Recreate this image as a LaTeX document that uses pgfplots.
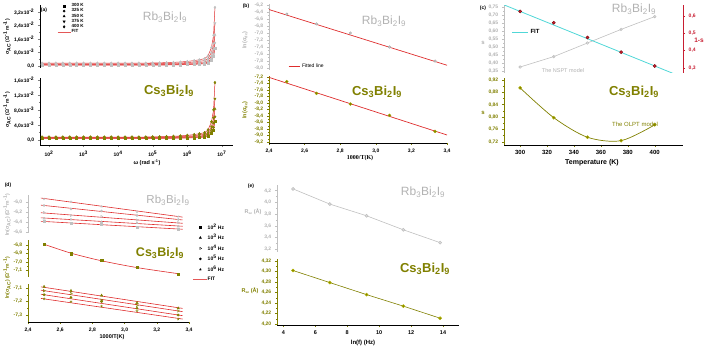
\documentclass[border=0pt]{standalone}
\usepackage{pgfplots}
\pgfplotsset{compat=1.18}
\usepackage{pgfplotstable}
\usepackage{fontspec}
\setmainfont{Liberation Sans}
\newfontfamily\serifb{Liberation Serif}

\definecolor{rbgray}{RGB}{192,192,192}
\definecolor{rbtxt}{RGB}{178,178,178}
\definecolor{olv}{RGB}{128,128,0}
\definecolor{fitred}{RGB}{222,45,45}
\definecolor{fitcyan}{RGB}{80,215,215}
\definecolor{axred}{RGB}{200,30,50}

\pgfkeys{/pgf/number format/.cd, assume math mode=true, use comma}
\newcommand{\tkf}{\fontsize{5}{6}\selectfont\bfseries}
\newcommand{\Rb}{Rb\textsubscript{3}Bi\textsubscript{2}I\textsubscript{9}}
\newcommand{\Cs}{Cs\textsubscript{3}Bi\textsubscript{2}I\textsubscript{9}}

\pgfplotsset{
  panel/.style={scale only axis, anchor=south west, tick align=outside,
    major tick length=2.2pt, minor tick length=1.2pt,
    tick style={line width=0.4pt},
    axis line style={line width=0.5pt},
    ticklabel style={font=\tkf},
    axis y line*=left, legend cell align=left},
  tpan/.style={panel, axis x line=none},
  bpan/.style={panel, axis x line*=bottom},
  grayax/.style={axis line style={rbgray}, tick style={rbgray}, yticklabel style={text=rbtxt}},
  olvax/.style={axis line style={olv}, x axis line style={black}, tick style={olv}, yticklabel style={text=olv}},
  p1/.style={/pgf/number format/.cd, fixed, fixed zerofill, precision=1},
  p2/.style={/pgf/number format/.cd, fixed, fixed zerofill, precision=2},
  linelegend/.style={legend image code/.code={\draw[##1] (2pt,0pt) -- (15pt,0pt);}},
  linelegendb/.style={legend image code/.code={\draw[##1] (0pt,0pt) -- (11pt,0pt);}},
  linelegendc/.style={legend image code/.code={\draw[##1] (0pt,0pt) -- (16pt,0pt);}},
  linelegendd/.style={legend image code/.code={\draw[##1] (1pt,0pt) -- (15pt,0pt);}},
}

% (a) sigma_ac vs omega, units 1e-2
\pgfplotstableread{
w a1 a2 a3 a4 a5 b1 b2 b3 b4 b5
63.1 0.05 0.07 0.10 0.13 0.17 0.04 0.05 0.06 0.07 0.08
100 0.05 0.07 0.10 0.13 0.17 0.04 0.05 0.06 0.07 0.08
158.5 0.05 0.07 0.10 0.13 0.17 0.04 0.05 0.06 0.07 0.08
251.2 0.05 0.07 0.10 0.13 0.17 0.04 0.05 0.06 0.07 0.08
398.1 0.05 0.07 0.10 0.13 0.17 0.04 0.05 0.06 0.07 0.08
631 0.05 0.07 0.10 0.13 0.17 0.04 0.05 0.06 0.07 0.08
1000 0.05 0.07 0.10 0.13 0.17 0.04 0.05 0.06 0.07 0.08
1585 0.05 0.07 0.10 0.13 0.17 0.04 0.05 0.06 0.07 0.08
2512 0.05 0.07 0.10 0.13 0.17 0.04 0.05 0.06 0.07 0.08
3981 0.05 0.07 0.10 0.13 0.17 0.04 0.05 0.06 0.07 0.08
6310 0.05 0.07 0.10 0.13 0.17 0.04 0.05 0.06 0.07 0.08
10000 0.05 0.07 0.10 0.13 0.17 0.04 0.05 0.06 0.07 0.08
15849 0.05 0.07 0.10 0.13 0.17 0.04 0.05 0.06 0.07 0.08
25119 0.05 0.07 0.10 0.13 0.17 0.04 0.05 0.06 0.07 0.08
39811 0.05 0.07 0.10 0.13 0.17 0.04 0.05 0.06 0.07 0.08
63096 0.05 0.07 0.10 0.13 0.17 0.04 0.05 0.06 0.07 0.08
100000 0.053 0.074 0.105 0.137 0.180 0.041 0.052 0.062 0.073 0.084
158489 0.055 0.077 0.109 0.142 0.187 0.042 0.053 0.064 0.075 0.087
251189 0.058 0.080 0.114 0.149 0.196 0.044 0.055 0.066 0.078 0.092
398107 0.063 0.087 0.123 0.161 0.213 0.046 0.057 0.070 0.083 0.099
630957 0.070 0.096 0.135 0.178 0.236 0.049 0.061 0.075 0.091 0.109
1000000 0.080 0.109 0.153 0.202 0.269 0.054 0.067 0.083 0.101 0.124
1584893 0.095 0.129 0.179 0.238 0.319 0.061 0.076 0.095 0.116 0.145
2238721 0.110 0.148 0.205 0.274 0.368 0.068 0.084 0.106 0.132 0.167
3162278 0.130 0.174 0.240 0.322 0.434 0.077 0.096 0.122 0.152 0.196
3981072 0.180 0.239 0.328 0.442 0.599 0.100 0.124 0.160 0.204 0.269
5011872 0.330 0.434 0.590 0.802 1.094 0.169 0.210 0.276 0.358 0.486
5754399 0.550 0.720 0.975 1.330 1.820 0.270 0.335 0.445 0.585 0.805
6309573 1.050 1.370 1.850 2.530 3.470 0.500 0.620 0.830 1.100 1.530
}\tabA

\begin{document}
\begin{tikzpicture}
\useasboundingbox (0pt,0pt) rectangle (709pt,350pt);

%================ (a) top
\begin{axis}[tpan, at={(40pt,282pt)}, width=193pt, height=62.75pt,
  xmode=log, xmin=55, xmax=2.1e7, ymin=-0.12, ymax=3.6,
  ytick={0,0.8,1.6,2.4,3.2}, minor ytick={0.4,1.2,2.0,2.8},
  yticklabels={{0,0},{8,0x10\textsuperscript{-3}},{1,6x10\textsuperscript{-2}},{2,4x10\textsuperscript{-2}},{3,2x10\textsuperscript{-2}}},
  legend style={at={(0.088,1.04)}, anchor=north west, draw=none, fill=none,
    font=\fontsize{4.5}{5}\selectfont\bfseries, row sep=-0.6pt, inner sep=0pt, nodes={inner sep=0.6pt}}]
\addlegendimage{only marks, mark=square*, mark size=1pt, black}\addlegendentry{300 K}
\addlegendimage{only marks, mark=*, mark size=1.1pt, black}\addlegendentry{325 K}
\addlegendimage{only marks, mark=triangle*, mark size=1.3pt, black}\addlegendentry{350 K}
\addlegendimage{only marks, mark=triangle*, mark size=1.3pt, mark options={rotate=180}, black}\addlegendentry{375 K}
\addlegendimage{only marks, mark=diamond*, mark size=1.3pt, black}\addlegendentry{400 K}
\addlegendimage{fitred!80, line width=0.8pt, linelegend}\addlegendentry{FIT}
\addplot[forget plot, only marks, mark=square*, mark size=1pt, rbgray] table[x=w,y=a1]{\tabA};
\addplot[forget plot, only marks, mark=*, mark size=1.1pt, rbgray] table[x=w,y=a2]{\tabA};
\addplot[forget plot, only marks, mark=triangle*, mark size=1.3pt, rbgray] table[x=w,y=a3]{\tabA};
\addplot[forget plot, only marks, mark=triangle*, mark size=1.3pt, mark options={rotate=180}, rbgray] table[x=w,y=a4]{\tabA};
\addplot[forget plot, only marks, mark=diamond*, mark size=1.3pt, rbgray] table[x=w,y=a5]{\tabA};
\addplot[forget plot, fitred, line width=0.5pt] table[x=w,y=a1]{\tabA};
\addplot[forget plot, fitred, line width=0.5pt] table[x=w,y=a2]{\tabA};
\addplot[forget plot, fitred, line width=0.5pt] table[x=w,y=a3]{\tabA};
\addplot[forget plot, fitred, line width=0.5pt] table[x=w,y=a4]{\tabA};
\addplot[forget plot, fitred, line width=0.5pt] table[x=w,y=a5]{\tabA};
\end{axis}

%================ (a) bottom
\begin{axis}[bpan, at={(40pt,205pt)}, width=193pt, height=67pt,
  xmode=log, xmin=55, xmax=2.1e7, ymin=-0.133, ymax=1.653,
  xtick={1e2,1e3,1e4,1e5,1e6,1e7},
  xticklabels={10\textsuperscript{2},10\textsuperscript{3},10\textsuperscript{4},10\textsuperscript{5},10\textsuperscript{6},10\textsuperscript{7}},
  ytick={0,0.4,0.8,1.2,1.6}, minor ytick={0.2,0.6,1.0,1.4},
  yticklabels={{0,0},{4,0x10\textsuperscript{-3}},{8,0x10\textsuperscript{-3}},{1,2x10\textsuperscript{-2}},{1,6x10\textsuperscript{-2}}}]
\addplot[only marks, mark=square*, mark size=1pt, olv] table[x=w,y=b1]{\tabA};
\addplot[only marks, mark=*, mark size=1.1pt, olv] table[x=w,y=b2]{\tabA};
\addplot[only marks, mark=triangle*, mark size=1.3pt, olv] table[x=w,y=b3]{\tabA};
\addplot[only marks, mark=triangle*, mark size=1.3pt, mark options={rotate=180}, olv] table[x=w,y=b4]{\tabA};
\addplot[only marks, mark=diamond*, mark size=1.4pt, olv] table[x=w,y=b5]{\tabA};
\addplot[fitred, line width=0.5pt] table[x=w,y=b1]{\tabA};
\addplot[fitred, line width=0.5pt] table[x=w,y=b2]{\tabA};
\addplot[fitred, line width=0.5pt] table[x=w,y=b3]{\tabA};
\addplot[fitred, line width=0.5pt] table[x=w,y=b4]{\tabA};
\addplot[fitred, line width=0.5pt] table[x=w,y=b5]{\tabA};
\end{axis}

%================ (b) top
\begin{axis}[tpan, grayax, at={(269pt,280.2pt)}, width=178pt, height=65.5pt,
  xmin=2.4, xmax=3.4, ymin=-8.05, ymax=-6.18,
  ytick={-8.0,-7.8,-7.6,-7.4,-7.2,-7.0,-6.8,-6.6,-6.4,-6.2}, minor y tick num=1,
  yticklabel style={/pgfplots/p1},
  legend style={at={(0.09,0.058)}, anchor=west, draw=none, fill=none,
    font=\fontsize{5}{6}\selectfont}]
\addlegendimage{fitred, line width=0.8pt, linelegendb}\addlegendentry{Fitted line}
\addplot[forget plot, fitred, line width=0.7pt] coordinates {(2.4,-6.33) (3.4,-7.92)};
\addplot[forget plot, only marks, mark=*, mark size=1.3pt, mark options={fill=black!20, draw=black!35}] coordinates {(2.5,-6.46) (2.667,-6.74) (2.857,-7.0) (3.077,-7.4) (3.333,-7.8)};
\end{axis}

%================ (b) bottom
\begin{axis}[bpan, olvax, at={(269pt,207.2pt)}, width=178pt, height=66.4pt,
  xmin=2.4, xmax=3.4, ymin=-9.22, ymax=-7.18,
  xtick={2.4,2.6,2.8,3.0,3.2,3.4}, xticklabel style={/pgfplots/p1},
  ytick={-9.2,-9.0,-8.8,-8.6,-8.4,-8.2,-8.0,-7.8,-7.6,-7.4,-7.2}, minor y tick num=1,
  yticklabel style={/pgfplots/p1}]
\addplot[fitred, line width=0.7pt] coordinates {(2.4,-7.21) (3.4,-8.98)};
\addplot[only marks, mark=*, mark size=1.5pt, mark options={fill=olv, draw=olv!70!yellow}] coordinates {(2.5,-7.34) (2.667,-7.70) (2.857,-8.03) (3.077,-8.38) (3.333,-8.87)};
\end{axis}

%================ (c) top left (s, Rb)
\begin{axis}[tpan, grayax, at={(504pt,277.4pt)}, width=179pt, height=67.2pt,
  xmin=288, xmax=421, ymin=0.34, ymax=0.76,
  ytick={0.35,0.40,0.45,0.50,0.55,0.60,0.65,0.70,0.75}, minor y tick num=1,
  yticklabel style={/pgfplots/p2}]
\addplot[rbgray, line width=0.6pt, mark=o, mark size=1.3pt] coordinates {(300,0.375) (325,0.44) (350,0.525) (375,0.61) (400,0.69)};
\end{axis}
%================ (c) top right (1-s)
\begin{axis}[panel, axis y line*=right, axis x line=none, at={(504pt,277.4pt)}, width=179pt, height=67.2pt,
  xmin=288, xmax=421, ymin=0.272, ymax=0.66,
  axis line style={axred}, tick style={axred}, yticklabel style={text=axred, /pgfplots/p1},
  ytick={0.3,0.4,0.5,0.6}, minor y tick num=1,
  legend style={at={(0.025,0.604)}, anchor=west, draw=none, fill=none,
    font=\fontsize{6}{7}\selectfont\bfseries}]
\addlegendimage{fitcyan, line width=0.9pt, linelegendc}\addlegendentry{FIT}
\addplot[forget plot, fitcyan, line width=0.8pt] coordinates {(288,0.663) (421,0.244)};
\addplot[forget plot, only marks, mark=*, mark size=1.6pt, mark options={fill=axred, draw=red!45!black}] coordinates {(300,0.625) (325,0.56) (350,0.475) (375,0.39) (400,0.31)};
\end{axis}

%================ (c) bottom
\begin{axis}[bpan, olvax, at={(504pt,205pt)}, width=179pt, height=67pt,
  xmin=288, xmax=421, ymin=0.71, ymax=0.926,
  xtick={300,320,340,360,380,400}, xticklabel style={font=\fontsize{6}{7}\selectfont\bfseries},
  ytick={0.72,0.76,0.80,0.84,0.88,0.92}, minor y tick num=1,
  yticklabel style={/pgfplots/p2}]
\addplot[olv, smooth, line width=0.7pt] coordinates {(300,0.894) (325,0.798) (350,0.735) (375,0.724) (400,0.775)};
\addplot[only marks, mark=*, mark size=1.6pt, mark options={fill=olv, draw=olv!60!yellow}] coordinates {(300,0.894) (325,0.798) (350,0.735) (375,0.724) (400,0.775)};
\end{axis}

%================ (d) top (Rb)
\begin{axis}[tpan, grayax, at={(28pt,117pt)}, width=161pt, height=38pt,
  xmin=2.4, xmax=3.4, ymin=-6.62, ymax=-5.86,
  ytick={-6.6,-6.4,-6.2,-6.0}, minor y tick num=1,
  yticklabel style={/pgfplots/p1}]
\addplot[only marks, mark=star, mark size=1.3pt, rbgray] coordinates {(2.5,-5.94) (2.667,-5.99) (2.857,-6.09) (3.077,-6.20) (3.333,-6.29)};
\addplot[only marks, mark=*, mark size=1.1pt, rbgray] coordinates {(2.5,-6.07) (2.667,-6.14) (2.857,-6.18) (3.077,-6.27) (3.333,-6.35)};
\addplot[only marks, mark=triangle, mark size=1.3pt, mark options={rotate=-90}, rbgray] coordinates {(2.5,-6.21) (2.667,-6.27) (2.857,-6.29) (3.077,-6.36) (3.333,-6.41)};
\addplot[only marks, mark=triangle*, mark size=1.3pt, rbgray] coordinates {(2.5,-6.33) (2.667,-6.35) (2.857,-6.40) (3.077,-6.42) (3.333,-6.49)};
\addplot[only marks, mark=square*, mark size=1pt, rbgray] coordinates {(2.5,-6.39) (2.667,-6.43) (2.857,-6.45) (3.077,-6.50) (3.333,-6.54)};
\addplot[fitred, line width=0.6pt] coordinates {(2.48,-5.921) (3.36,-6.302)};
\addplot[fitred, line width=0.6pt] coordinates {(2.48,-6.063) (3.36,-6.359)};
\addplot[fitred, line width=0.6pt] coordinates {(2.48,-6.215) (3.36,-6.426)};
\addplot[fitred, line width=0.6pt] coordinates {(2.48,-6.316) (3.36,-6.485)};
\addplot[fitred, line width=0.6pt] coordinates {(2.48,-6.386) (3.36,-6.545)};
\end{axis}

%================ (d) middle (Cs, 10^2 Hz)
\begin{axis}[tpan, olvax, at={(28pt,73pt)}, width=161pt, height=37pt,
  xmin=2.4, xmax=3.4, ymin=-7.176, ymax=-6.74,
  ytick={-7.1,-7.0,-6.9,-6.8}, minor y tick num=1,
  yticklabel style={/pgfplots/p1},
  legend style={at={(1.02,1.46)}, anchor=north west, draw=none, fill=none,
    font=\fontsize{5}{6}\selectfont\bfseries, row sep=2.6pt, inner sep=0pt, nodes={inner sep=0.5pt}}]
\addlegendimage{only marks, mark=square*, mark size=1pt, black}\addlegendentry{10\textsuperscript{2} Hz}
\addlegendimage{only marks, mark=triangle*, mark size=1.3pt, black}\addlegendentry{10\textsuperscript{3} Hz}
\addlegendimage{only marks, mark=triangle, mark size=1.3pt, mark options={rotate=-90}, black}\addlegendentry{10\textsuperscript{4} Hz}
\addlegendimage{only marks, mark=*, mark size=1.1pt, black}\addlegendentry{10\textsuperscript{5} Hz}
\addlegendimage{only marks, mark=star, mark size=1.3pt, black}\addlegendentry{10\textsuperscript{6} Hz}
\addlegendimage{fitred!80, line width=0.8pt, linelegendd}\addlegendentry{FIT}
\addplot[forget plot, only marks, mark=square*, mark size=1.2pt, olv] coordinates {(2.5,-6.79) (2.667,-6.90) (2.857,-6.98) (3.077,-7.06) (3.333,-7.14)};
\addplot[forget plot, fitred, smooth, line width=0.6pt] coordinates {(2.5,-6.79) (2.667,-6.895) (2.857,-6.985) (3.077,-7.065) (3.333,-7.137)};
\end{axis}

%================ (d) bottom (Cs, 10^3..10^6 Hz)
\begin{axis}[bpan, olvax, at={(28pt,28pt)}, width=161pt, height=38pt,
  xmin=2.4, xmax=3.4, ymin=-7.352, ymax=-7.07,
  xtick={2.4,2.6,2.8,3.0,3.2,3.4}, xticklabel style={/pgfplots/p1},
  ytick={-7.3,-7.2,-7.1}, minor y tick num=1,
  yticklabel style={/pgfplots/p1}]
\addplot[only marks, mark=triangle*, mark size=1.4pt, olv] coordinates {(2.5,-7.09) (2.667,-7.12) (2.857,-7.155) (3.077,-7.21) (3.333,-7.25)};
\addplot[only marks, mark=triangle, mark size=1.4pt, mark options={rotate=-90}, olv] coordinates {(2.5,-7.12) (2.667,-7.14) (2.857,-7.19) (3.077,-7.23) (3.333,-7.27)};
\addplot[only marks, mark=*, mark size=1.2pt, olv] coordinates {(2.5,-7.15) (2.667,-7.17) (2.857,-7.20) (3.077,-7.25) (3.333,-7.30)};
\addplot[only marks, mark=star, mark size=1.4pt, olv] coordinates {(2.5,-7.18) (2.667,-7.20) (2.857,-7.235) (3.077,-7.27) (3.333,-7.33)};
\addplot[fitred, line width=0.6pt] coordinates {(2.48,-7.091) (3.36,-7.251)};
\addplot[fitred, line width=0.6pt] coordinates {(2.48,-7.116) (3.36,-7.275)};
\addplot[fitred, line width=0.6pt] coordinates {(2.48,-7.146) (3.36,-7.305)};
\addplot[fitred, line width=0.6pt] coordinates {(2.48,-7.177) (3.36,-7.330)};
\end{axis}

%================ (e) top
\begin{axis}[tpan, grayax, at={(277pt,98pt)}, width=182pt, height=67pt,
  xmin=3.6, xmax=15.0, ymin=3.15, ymax=4.297,
  ytick={3.2,3.4,3.6,3.8,4.0,4.2}, minor y tick num=1,
  yticklabel style={/pgfplots/p1}]
\addplot[rbgray, line width=0.6pt, mark=*, mark size=1.5pt, mark options={fill=rbgray!50, draw=rbgray}] coordinates {(4.605,4.23) (6.908,3.97) (9.210,3.77) (11.513,3.53) (13.816,3.31)};
\end{axis}

%================ (e) bottom
\begin{axis}[bpan, olvax, at={(277pt,25pt)}, width=182pt, height=66pt,
  xmin=3.6, xmax=15.0, ymin=4.198, ymax=4.324,
  xtick={4,6,8,10,12,14}, xticklabel style={font=\fontsize{5.5}{6}\selectfont\bfseries},
  ytick={4.20,4.22,4.24,4.26,4.28,4.30,4.32}, minor y tick num=1,
  yticklabel style={/pgfplots/p2}]
\addplot[olv, line width=0.6pt, mark=*, mark size=1.5pt, mark options={fill=olv, draw=olv!60!yellow}] coordinates {(4.605,4.302) (6.908,4.279) (9.210,4.256) (11.513,4.234) (13.816,4.211)};
\end{axis}

%================ texts
\begin{scope}[every node/.style={inner sep=0pt}]
\node[font=\fontsize{5}{6}\selectfont\bfseries] at (44pt,340pt) {(a)};
\node[font=\fontsize{5}{6}\selectfont\bfseries] at (246pt,344pt) {(b)};
\node[font=\fontsize{5}{6}\selectfont\bfseries] at (483pt,342pt) {(c)};
\node[font=\fontsize{5}{6}\selectfont\bfseries] at (8pt,165pt) {(d)};
\node[font=\fontsize{5}{6}\selectfont\bfseries] at (251pt,164pt) {(e)};
\node[font=\fontsize{12}{13}\selectfont, text=rbtxt] at (165pt,333pt) {\Rb};
\node[font=\fontsize{13}{14}\selectfont\bfseries, text=olv] at (169pt,259pt) {\Cs};
\node[font=\fontsize{12}{13}\selectfont, text=rbtxt] at (384pt,329pt) {\Rb};
\node[font=\fontsize{13}{14}\selectfont\bfseries, text=olv] at (377pt,258pt) {\Cs};
\node[font=\fontsize{12}{13}\selectfont, text=rbtxt] at (634pt,341pt) {\Rb};
\node[font=\fontsize{13}{14}\selectfont\bfseries, text=olv] at (634pt,258pt) {\Cs};
\node[font=\fontsize{11.5}{13}\selectfont, text=rbtxt] at (168pt,150pt) {\Rb};
\node[font=\fontsize{12.5}{14}\selectfont\bfseries, text=olv] at (160pt,97pt) {\Cs};
\node[font=\fontsize{12}{13}\selectfont, text=rbtxt] at (423pt,158pt) {\Rb};
\node[font=\fontsize{13}{14}\selectfont\bfseries, text=olv] at (425pt,81pt) {\Cs};
\node[rotate=90, font=\fontsize{5}{6}\selectfont\bfseries] at (7pt,313pt) {σ\textsubscript{AC} (Ω\textsuperscript{-1} m\textsuperscript{-1})};
\node[rotate=90, font=\fontsize{5}{6}\selectfont\bfseries] at (7pt,240pt) {σ\textsubscript{AC} (Ω\textsuperscript{-1} m\textsuperscript{-1})};
\node[rotate=90, font=\fontsize{5.5}{6}\selectfont\bfseries, text=rbtxt] at (245pt,310pt) {ln(σ\textsubscript{dc})};
\node[rotate=90, font=\fontsize{5.5}{6}\selectfont\bfseries, text=olv] at (245pt,240pt) {ln(σ\textsubscript{dc})};
\node[font=\fontsize{6}{7}\selectfont\bfseries, text=rbtxt] at (483pt,307pt) {s};
\node[font=\fontsize{6}{7}\selectfont\bfseries, text=olv] at (483pt,237pt) {s};
\node[font=\fontsize{6.5}{7}\selectfont\bfseries, text=axred] at (699pt,310pt) {1-s};
\node[rotate=90, font=\fontsize{5}{6}\selectfont\bfseries, text=rbtxt] at (7pt,135pt) {ln(σ\textsubscript{AC}) (Ω\textsuperscript{-1}m\textsuperscript{-1})};
\node[rotate=90, font=\fontsize{5}{6}\selectfont\bfseries, text=olv] at (7pt,72pt) {ln(σ\textsubscript{AC}) (Ω\textsuperscript{-1}m\textsuperscript{-1})};
\node[font=\fontsize{5.5}{6}\selectfont\bfseries, text=rbtxt] at (253pt,138pt) {R\textsubscript{ω} (Å)};
\node[font=\fontsize{5.5}{6}\selectfont\bfseries, text=olv] at (250pt,59pt) {R\textsubscript{ω} (Å)};
\node[font=\fontsize{5.5}{6}\selectfont\bfseries] at (147pt,187pt) {ω (rad s\textsuperscript{-1})};
\node[font=\fontsize{6}{7}\selectfont\bfseries\serifb] at (360pt,192pt) {1000/T(K)};
\node[font=\fontsize{7}{8}\selectfont\bfseries] at (592pt,187pt) {Temperature (K)};
\node[font=\fontsize{5.5}{6}\selectfont\bfseries] at (112pt,13pt) {1000/T(K)};
\node[font=\fontsize{6}{7}\selectfont\bfseries] at (363pt,7pt) {ln(f) (Hz)};
\node[font=\fontsize{5.5}{6}\selectfont, text=rbtxt] at (563pt,279pt) {The NSPT model};
\node[font=\fontsize{6}{7}\selectfont, text=olv] at (635pt,226pt) {The OLPT model};
\end{scope}
\end{tikzpicture}
\end{document}
